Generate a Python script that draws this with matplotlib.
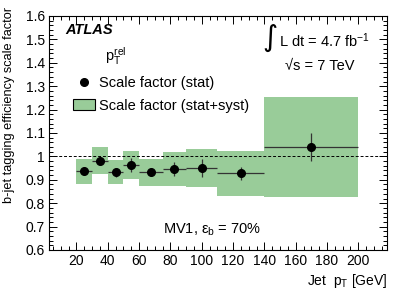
import matplotlib
matplotlib.use("Agg")
import matplotlib.pyplot as plt
from matplotlib.patches import Rectangle
from matplotlib.lines import Line2D
from matplotlib.legend_handler import HandlerLine2D
from matplotlib.ticker import MultipleLocator

plt.rcParams['font.family'] = ['Liberation Sans', 'DejaVu Sans']
plt.rcParams['mathtext.fontset'] = 'custom'
plt.rcParams['mathtext.rm'] = 'Liberation Sans'
plt.rcParams['mathtext.it'] = 'Liberation Sans'

# bins in jet pT [GeV]
bin_lo = [20, 30, 40, 50, 60, 75, 90, 110, 140]
bin_hi = [30, 40, 50, 60, 75, 90, 110, 140, 200]
x_pts = [25, 35, 45, 55, 67.5, 82.5, 100, 125, 170]
sf = [0.936, 0.980, 0.932, 0.965, 0.932, 0.946, 0.952, 0.928, 1.041]
sf_stat = [0.012, 0.012, 0.018, 0.030, 0.015, 0.029, 0.038, 0.028, 0.059]
syst_lo = [0.881, 0.926, 0.881, 0.903, 0.875, 0.874, 0.869, 0.832, 0.828]
syst_hi = [0.990, 1.039, 0.985, 1.024, 0.988, 1.019, 1.032, 1.024, 1.255]

green = '#99cc99'


class RightMarker(HandlerLine2D):
    # ROOT-style legend: the marker sits at the right of the symbol area
    def get_xdata(self, legend, xdescent, ydescent, width, height, fontsize):
        xdata, _ = super().get_xdata(legend, xdescent, ydescent, width, height, fontsize)
        return xdata, [0.9 * width - xdescent]


fig = plt.figure(figsize=(4.07, 2.99), dpi=100)
ax = fig.add_axes([0.1204, 0.1639, 0.8312, 0.7826])

for lo, hi, ylo, yhi in zip(bin_lo, bin_hi, syst_lo, syst_hi):
    ax.add_patch(Rectangle((lo, ylo), hi - lo, yhi - ylo, facecolor=green,
                           edgecolor='none', zorder=1))

ax.axhline(1.0, color='black', lw=0.7, ls=(0, (3, 2)), zorder=2)

xerr_lo = [x - lo for x, lo in zip(x_pts, bin_lo)]
xerr_hi = [hi - x for x, hi in zip(x_pts, bin_hi)]
ax.errorbar(x_pts, sf, yerr=sf_stat, xerr=[xerr_lo, xerr_hi], fmt='o',
            color='black', ecolor='#333333', elinewidth=0.9, capsize=0,
            markersize=5.5, zorder=3)

ax.set_xlim(2.5, 218.5)
ax.set_ylim(0.6, 1.6)
ax.xaxis.set_major_locator(MultipleLocator(20))
ax.xaxis.set_minor_locator(MultipleLocator(5))
ax.yaxis.set_major_locator(MultipleLocator(0.1))
ax.yaxis.set_minor_locator(MultipleLocator(0.02))
ax.yaxis.set_major_formatter(plt.FuncFormatter(lambda v, p: ('%g' % round(v, 2))))
ax.tick_params(which='both', direction='in', top=True, right=True, labelsize=10, pad=3)
ax.tick_params(which='major', length=6, width=0.7)
ax.tick_params(which='minor', length=3, width=0.7)
for s in ax.spines.values():
    s.set_linewidth(0.8)

ax.set_xlabel('Jet  $p_{\\mathrm{T}}$ [GeV]', fontsize=10, loc='right', labelpad=3)
ax.set_ylabel('b-jet tagging efficiency scale factor', fontsize=9.2, loc='top')
ax.yaxis.set_label_coords(-0.1, 1.04)

ax.text(0.047, 0.94, 'ATLAS', transform=ax.transAxes, fontsize=10.5,
        fontweight='bold', style='italic', va='center')
ax.text(0.166, 0.829, '$p_{\\mathrm{T}}^{\\mathrm{rel}}$', transform=ax.transAxes,
        fontsize=10.5, va='center')
ax.text(0.674, 0.906, '\u222b', transform=ax.transAxes, fontsize=21,
        family='DejaVu Sans', ha='right', va='center')
ax.text(0.679, 0.868, 'L dt = 4.7 fb$^{-1}$', transform=ax.transAxes,
        fontsize=10.5, va='baseline')
ax.text(0.698, 0.769, '\u221as = 7 TeV', transform=ax.transAxes,
        fontsize=10.5, va='baseline')
ax.text(0.337, 0.071, 'MV1, $\\varepsilon_{\\mathrm{b}}$ = 70%', transform=ax.transAxes,
        fontsize=10.5, va='baseline')

handles = [Line2D([], [], marker='o', color='black', ls='none', markersize=5.5),
           Rectangle((0, 0), 1, 1, facecolor=green, edgecolor='black', lw=0.8)]
ax.legend(handles, ['Scale factor (stat)', 'Scale factor (stat+syst)'],
          loc='upper left', bbox_to_anchor=(0.07, 0.744), frameon=False,
          fontsize=10.5, handlelength=1.5, handletextpad=0.3, labelspacing=0.6,
          borderpad=0, borderaxespad=0, handler_map={Line2D: RightMarker()})

fig.savefig('out.png', dpi=100)
